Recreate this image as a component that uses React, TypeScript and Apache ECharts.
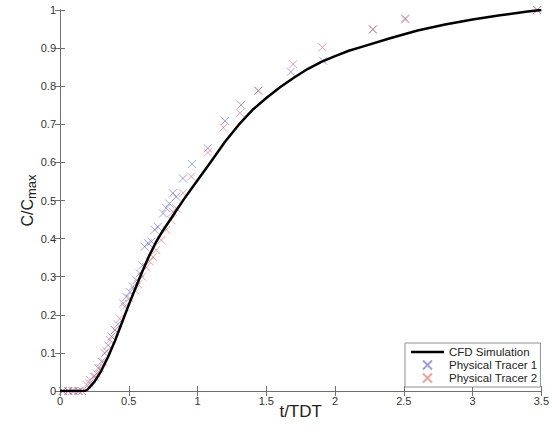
import React, { useEffect, useRef } from "react";
import * as echarts from "echarts";

// CFD simulation curve (t/TDT, C/Cmax)
const cfdT = [0, 0.1, 0.18, 0.2, 0.25, 0.3, 0.35, 0.4, 0.45, 0.5, 0.55, 0.6, 0.65, 0.7, 0.75, 0.8, 0.9, 1.0, 1.1, 1.2, 1.3, 1.4, 1.5, 1.6, 1.7, 1.8, 1.9, 2.0, 2.1, 2.2, 2.4, 2.6, 2.8, 3.0, 3.2, 3.4, 3.5];
const cfdC = [0, 0, 0, 0.004, 0.024, 0.053, 0.09, 0.132, 0.179, 0.226, 0.271, 0.315, 0.356, 0.392, 0.422, 0.449, 0.503, 0.553, 0.603, 0.654, 0.699, 0.738, 0.769, 0.797, 0.822, 0.845, 0.864, 0.879, 0.893, 0.904, 0.926, 0.946, 0.962, 0.975, 0.986, 0.996, 1.0];

// Physical tracer 1
const tracer1T = [0.02, 0.06, 0.1, 0.14, 0.217, 0.254, 0.278, 0.302, 0.326, 0.35, 0.374, 0.399, 0.42, 0.459, 0.483, 0.507, 0.531, 0.556, 0.58, 0.6, 0.616, 0.64, 0.665, 0.688, 0.712, 0.749, 0.773, 0.795, 0.821, 0.845, 0.894, 0.959, 1.075, 1.2, 1.317, 1.442, 1.679, 1.913, 2.275, 2.51, 3.47];
const tracer1C = [0, 0, 0, 0, 0.02, 0.038, 0.06, 0.077, 0.099, 0.12, 0.143, 0.16, 0.175, 0.23, 0.247, 0.26, 0.274, 0.291, 0.309, 0.33, 0.379, 0.388, 0.392, 0.423, 0.431, 0.466, 0.48, 0.492, 0.519, 0.51, 0.558, 0.596, 0.637, 0.709, 0.751, 0.788, 0.838, 0.867, 0.949, 0.978, 1.0];

// Physical tracer 2
const tracer2T = [0.02, 0.06, 0.09, 0.13, 0.16, 0.193, 0.217, 0.242, 0.266, 0.29, 0.314, 0.338, 0.362, 0.4, 0.435, 0.47, 0.507, 0.543, 0.568, 0.597, 0.628, 0.652, 0.676, 0.7, 0.737, 0.773, 0.809, 0.821, 0.845, 0.894, 0.954, 1.075, 1.188, 1.309, 1.442, 1.696, 1.908, 2.275, 2.51, 3.47];
const tracer2C = [0, 0, 0, 0, 0, 0.016, 0.029, 0.038, 0.046, 0.06, 0.077, 0.105, 0.134, 0.16, 0.19, 0.221, 0.243, 0.265, 0.28, 0.3, 0.325, 0.34, 0.352, 0.37, 0.396, 0.423, 0.449, 0.47, 0.48, 0.519, 0.563, 0.626, 0.691, 0.73, 0.788, 0.858, 0.902, 0.949, 0.975, 1.0];

const xTicks = [0, 3.5, 0.5];
const yTicks = [0, 1, 0.1];

const CROSS = "path://M0,0L10,10M10,0L0,10";
const LINE_ICON = "path://M0,0L33,0L33,2.5L0,2.5Z";
const FONT = "Liberation Sans, Arial, sans-serif";
const AXIS_COLOR = "#707070";

export default function App() {
  const ref = useRef<HTMLDivElement>(null);
  useEffect(() => {
    if (!ref.current) return;
    const chart = echarts.init(ref.current, undefined, { renderer: "svg" });
    const zip = (a: number[], b: number[]) => a.map((v, i) => [v, b[i]]);
    const tickStyle = { show: true, inside: true, length: 5, lineStyle: { color: AXIS_COLOR } };
    const lineStyle = { show: true, lineStyle: { color: AXIS_COLOR, width: 1 } };
    chart.setOption({
      animation: false,
      backgroundColor: "#ffffff",
      textStyle: { fontFamily: FONT },
      grid: { left: 60, right: 9, top: 10, bottom: 42, containLabel: false },
      legend: {
        orient: "vertical",
        left: 405,
        top: 343,
        backgroundColor: "#ffffff",
        borderColor: "#909090",
        borderWidth: 1,
        borderRadius: 0,
        padding: [3, 3, 3, 6],
        itemGap: 1,
        itemWidth: 33,
        itemHeight: 9,
        textStyle: { fontSize: 11.5, lineHeight: 12, color: "#222", fontFamily: FONT },
        data: [
          { name: "CFD Simulation", icon: LINE_ICON },
          { name: "Physical Tracer 1" },
          { name: "Physical Tracer 2" },
        ],
      },
      xAxis: [
        {
          type: "value",
          min: xTicks[0],
          max: xTicks[1],
          interval: xTicks[2],
          name: "t/TDT",
          nameLocation: "middle",
          nameGap: 12,
          nameMoveOverlap: false,
          nameTextStyle: { fontSize: 17, color: "#222", fontFamily: FONT, verticalAlign: "top" },
          axisLine: lineStyle,
          axisTick: tickStyle,
          axisLabel: { fontSize: 11, color: "#333", margin: 4 },
          splitLine: { show: false },
        },
        {
          type: "value",
          position: "top",
          min: xTicks[0],
          max: xTicks[1],
          interval: xTicks[2],
          axisLine: lineStyle,
          axisTick: tickStyle,
          axisLabel: { show: false },
          splitLine: { show: false },
        },
      ],
      yAxis: [
        {
          type: "value",
          min: yTicks[0],
          max: yTicks[1],
          interval: yTicks[2],
          name: "C/C{sub|max}",
          nameLocation: "middle",
          nameGap: 22,
          nameMoveOverlap: false,
          nameRotate: 90,
          nameTextStyle: {
            fontSize: 16,
            color: "#222",
            fontFamily: FONT,
            rich: {
              sub: { fontSize: 13, color: "#222", fontFamily: FONT, padding: [8, 0, 0, 0] },
            },
          },
          axisLine: lineStyle,
          axisTick: tickStyle,
          axisLabel: { fontSize: 11, color: "#333", margin: 4 },
          splitLine: { show: false },
        },
        {
          type: "value",
          position: "right",
          min: yTicks[0],
          max: yTicks[1],
          interval: yTicks[2],
          axisLine: lineStyle,
          axisTick: tickStyle,
          axisLabel: { show: false },
          splitLine: { show: false },
        },
      ],
      series: [
        {
          name: "CFD Simulation",
          type: "line",
          data: zip(cfdT, cfdC),
          showSymbol: false,
          symbol: "none",
          smooth: false,
          lineStyle: { color: "#000", width: 2.5, join: "round" },
          itemStyle: { color: "#000" },
          z: 4,
        },
        {
          name: "Physical Tracer 1",
          type: "scatter",
          data: zip(tracer1T, tracer1C),
          symbol: CROSS,
          symbolSize: 8,
          itemStyle: { color: "rgba(0,0,0,0)", borderColor: "rgba(95,95,200,0.75)", borderWidth: 1 },
          z: 3,
        },
        {
          name: "Physical Tracer 2",
          type: "scatter",
          data: zip(tracer2T, tracer2C),
          symbol: CROSS,
          symbolSize: 8,
          itemStyle: { color: "rgba(0,0,0,0)", borderColor: "rgba(220,100,100,0.75)", borderWidth: 1 },
          z: 3,
        },
      ],
    });
    return () => chart.dispose();
  }, []);
  return <div ref={ref} style={{ position: "fixed", left: 0, top: 0, width: 552, height: 433 }} />;
}
